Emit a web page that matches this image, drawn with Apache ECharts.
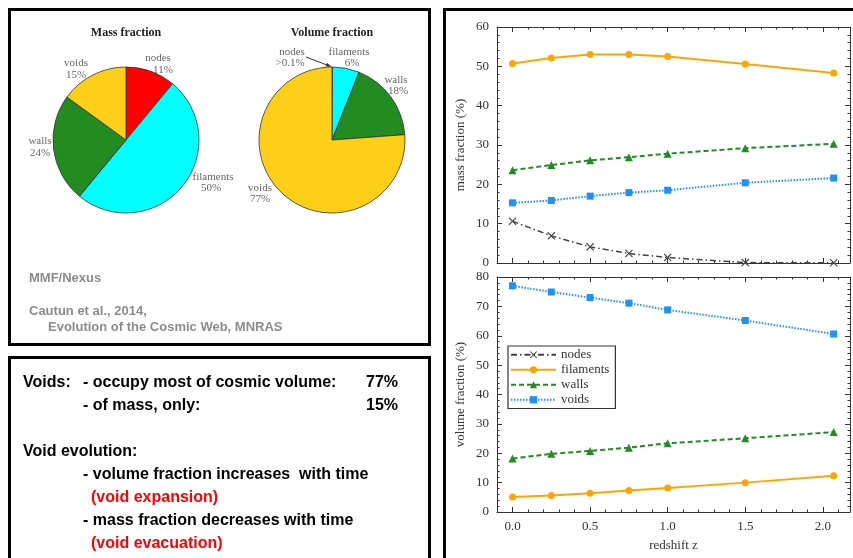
<!DOCTYPE html>
<html><head><meta charset="utf-8">
<script src="https://cdn.jsdelivr.net/npm/echarts@6/dist/echarts.min.js"></script>
<style>html,body{margin:0;padding:0;background:#fff}#c{width:853px;height:558px}</style>
</head><body><div id="c"></div>
<script>
// ---------- data ----------
const redshift = [0, 0.25, 0.5, 0.75, 1.0, 1.5, 2.07];
const massNodes = [10.6, 6.9, 4.1, 2.4, 1.4, 0.1, 0.05];
const massFilaments = [50.7, 52.1, 53.0, 53.0, 52.5, 50.6, 48.3];
const massWalls = [23.6, 24.9, 26.1, 26.9, 27.8, 29.2, 30.3];
const massVoids = [15.3, 15.9, 17.0, 17.9, 18.5, 20.4, 21.6];
const volFilaments = [5.1, 5.6, 6.4, 7.3, 8.2, 10.0, 12.3];
const volWalls = [18.2, 19.8, 20.8, 21.9, 23.4, 25.1, 27.2];
const volVoids = [77.0, 74.9, 73.0, 71.1, 68.8, 65.2, 60.6];
const xTickValues = [0, 0.5, 1.0, 1.5, 2.0];
const pieNames = ['nodes', 'filaments', 'walls', 'voids'];
const massPie = [11, 50, 24, 15];
const massPieLabels = ['11%', '50%', '24%', '15%'];
const volumePie = [0.1, 6, 18, 77];
const volumePieLabels = ['>0.1%', '6%', '18%', '77%'];

// ---------- styles ----------
const SERIF = 'Liberation Serif';
const SANS = 'Liberation Sans';
const AX = '#333';
const pieColors = ['#FF0000', '#00FFFF', '#228B22', '#FDD017'];
const xSym = 'path://M1,0L5,4L9,0L10,1L6,5L10,9L9,10L5,6L1,10L0,9L4,5L0,1Z';
const styles = {
  nodes: {color: '#444444', symbol: xSym, size: 8, type: [6, 3, 1.5, 3], width: 1.5},
  filaments: {color: '#FFA500', symbol: 'circle', size: 7, type: 'solid', width: 2},
  walls: {color: '#228B22', symbol: 'triangle', size: 8, type: [5, 3], width: 2},
  voids: {color: '#1E90FF', symbol: 'rect', size: 7, type: [1.5, 1.5], width: 2}
};

function pts(vals) { return redshift.map((z, i) => [z, vals[i]]); }
function lineSeries(name, vals, xi, yi) {
  const st = styles[name];
  return {
    type: 'line', name, data: pts(vals), xAxisIndex: xi, yAxisIndex: yi,
    symbol: st.symbol, symbolSize: st.size, showAllSymbol: true,
    itemStyle: {color: st.color}, lineStyle: {color: st.color, width: st.width, type: st.type},
    z: 3, animation: false, silent: true
  };
}

function xAxes(grid, showLabels) {
  const base = {gridIndex: grid, type: 'value', min: -0.1, max: 2.175, splitLine: {show: false}};
  const major = {
    axisLine: {show: true, onZero: false, lineStyle: {color: AX, width: 1}},
    axisTick: {show: true, inside: true, length: 5, customValues: xTickValues, lineStyle: {color: AX}},
    axisLabel: {show: false}
  };
  const minor = {
    interval: 0.1,
    axisLine: {show: false, onZero: false},
    axisTick: {show: true, inside: true, length: 2.5, lineStyle: {color: AX}},
    axisLabel: {show: false}
  };
  const bottomMajor = Object.assign({}, base, major, {position: 'bottom'});
  if (showLabels) {
    bottomMajor.axisLabel = {show: true, customValues: xTickValues, formatter: v => v.toFixed(1),
      color: '#333', fontFamily: SERIF, fontSize: 13, margin: 8};
    bottomMajor.name = 'redshift z';
    bottomMajor.nameLocation = 'middle';
    bottomMajor.nameGap = 27;
    bottomMajor.nameTextStyle = {color: '#333', fontFamily: SERIF, fontSize: 13};
  }
  return [
    bottomMajor,
    Object.assign({}, base, minor, {position: 'bottom'}),
    Object.assign({}, base, major, {position: 'top'}),
    Object.assign({}, base, minor, {position: 'top'})
  ];
}
function yAxes(grid, max, name) {
  const base = {
    gridIndex: grid, type: 'value', min: 0, max: max, interval: 10, splitLine: {show: false},
    axisLine: {show: true, onZero: false, lineStyle: {color: AX, width: 1}},
    axisTick: {show: true, inside: true, length: 5, lineStyle: {color: AX}},
    minorTick: {show: true, splitNumber: 5, length: 2.5, lineStyle: {color: AX}},
    minorSplitLine: {show: false}
  };
  return [
    Object.assign({}, base, {position: 'left', name: name, nameLocation: 'middle', nameGap: 30,
      nameTextStyle: {color: '#333', fontFamily: SERIF, fontSize: 13},
      axisLabel: {color: '#333', fontFamily: SERIF, fontSize: 13, margin: 8}}),
    Object.assign({}, base, {position: 'right', axisLabel: {show: false}})
  ];
}

// ---------- graphic texts ----------
const G = [];
function txt(text, x, y, o) {
  G.push(Object.assign({type: 'text', x: x, y: y, z: 100, silent: true,
    style: Object.assign({text: text, fill: '#000', fontFamily: SANS, fontSize: 16, fontWeight: 'bold',
      textVerticalAlign: 'middle', verticalAlign: 'middle', textAlign: 'left', align: 'left'}, o || {})}));
}
function rect(x, y, w, h) {
  G.push({type: 'rect', z: -10, silent: true, shape: {x: x, y: y, width: w, height: h},
    style: {fill: '#fff', stroke: '#000', lineWidth: 3}});
}
rect(9.5, 9.5, 420, 335);
rect(9.5, 357.5, 420, 300);
rect(444.5, 9.5, 500, 600);

const pieTitle = {fontFamily: SERIF, fontSize: 12, fontWeight: 'bold', fill: '#222', textAlign: 'center', align: 'center'};
txt('Mass fraction', 126, 33, pieTitle);
txt('Volume fraction', 332, 33, pieTitle);

const pl = {fontFamily: SERIF, fontSize: 11, fontWeight: 'normal', fill: '#666', textAlign: 'center', align: 'center'};
const massLabelPos = [[158, 58, 163, 70], [213, 177, 211, 188], [40, 141, 40, 153], [76, 63, 76, 75]];
const volLabelPos = [[292, 52, 290, 63], [349, 52, 352, 63], [396, 80, 398, 91], [260, 188, 260, 199]];
pieNames.forEach((n, i) => {
  const m = massLabelPos[i];
  txt(n, m[0], m[1], pl); txt(massPieLabels[i], m[2], m[3], pl);
  const v = volLabelPos[i];
  txt(n, v[0], v[1], pl); txt(volumePieLabels[i], v[2], v[3], pl);
});
// arrow from nodes label to volume pie
(function () {
  const x1 = 306, y1 = 57, x2 = 331, y2 = 66.5;
  G.push({type: 'line', z: 100, silent: true, shape: {x1: x1, y1: y1, x2: x2, y2: y2}, style: {stroke: '#333', lineWidth: 1}});
  const dx = x2 - x1, dy = y2 - y1, L = Math.hypot(dx, dy), ux = dx / L, uy = dy / L;
  const bx = x2 - ux * 5, by = y2 - uy * 5;
  G.push({type: 'polygon', z: 100, silent: true, shape: {points: [[x2, y2], [bx - uy * 2, by + ux * 2], [bx + uy * 2, by - ux * 2]]}, style: {fill: '#333'}});
})();

const gray = {fill: '#8c8c8c', fontSize: 13};
txt('MMF/Nexus', 29, 278, gray);
txt('Cautun et al., 2014,', 29, 311, gray);
txt('Evolution of the Cosmic Web, MNRAS', 48, 327, gray);

txt('Voids:', 23, 383);
txt('- occupy most of cosmic volume:', 83, 383);
txt(volumePie[3] + '%', 398, 383, {textAlign: 'right', align: 'right'});
txt('- of mass, only:', 83, 406);
txt(massPie[3] + '%', 398, 406, {textAlign: 'right', align: 'right'});
txt('Void evolution:', 23, 452);
txt('- volume fraction increases  with time', 83, 475);
txt('(void expansion)', 91, 498, {fill: '#FF0000'});
txt('- mass fraction decreases with time', 83, 521);
txt('(void evacuation)', 91, 544, {fill: '#FF0000'});

// ---------- chart ----------
const chart = echarts.init(document.getElementById('c'), null, {renderer: 'canvas'});
const pieBase = {
  type: 'pie', radius: 73, startAngle: 90, clockwise: true, silent: true, animation: false,
  label: {show: false}, labelLine: {show: false}, emphasis: {disabled: true},
  itemStyle: {borderColor: '#333', borderWidth: 0.8}
};
chart.setOption({
  animation: false,
  backgroundColor: '#fff',
  grid: [
    {left: 497, top: 27, width: 353, height: 236},
    {left: 497, top: 277, width: 353, height: 235}
  ],
  xAxis: xAxes(0, false).concat(xAxes(1, true)),
  yAxis: yAxes(0, 60, 'mass fraction (%)').concat(yAxes(1, 80, 'volume fraction (%)')),
  legend: {
    data: pieNames, orient: 'vertical', left: 508, top: 346,
    itemWidth: 45, itemHeight: 9, itemGap: 1.5, padding: [2, 6, 2, 2],
    borderColor: '#333', borderWidth: 1.2, backgroundColor: '#fff',
    textStyle: {fontFamily: SERIF, fontSize: 13, color: '#333', lineHeight: 13.5},
    selectedMode: false
  },
  graphic: {elements: G},
  series: [
    Object.assign({}, pieBase, {name: 'Mass fraction', center: [126, 140],
      data: pieNames.map((n, i) => ({name: n, value: massPie[i], itemStyle: {color: pieColors[i]}}))}),
    Object.assign({}, pieBase, {name: 'Volume fraction', center: [332, 140],
      data: pieNames.map((n, i) => ({name: n, value: volumePie[i], itemStyle: {color: pieColors[i]}}))}),
    lineSeries('nodes', massNodes, 0, 0),
    lineSeries('filaments', massFilaments, 0, 0),
    lineSeries('walls', massWalls, 0, 0),
    lineSeries('voids', massVoids, 0, 0),
    lineSeries('filaments', volFilaments, 4, 2),
    lineSeries('walls', volWalls, 4, 2),
    lineSeries('voids', volVoids, 4, 2)
  ]
});
</script></body></html>
